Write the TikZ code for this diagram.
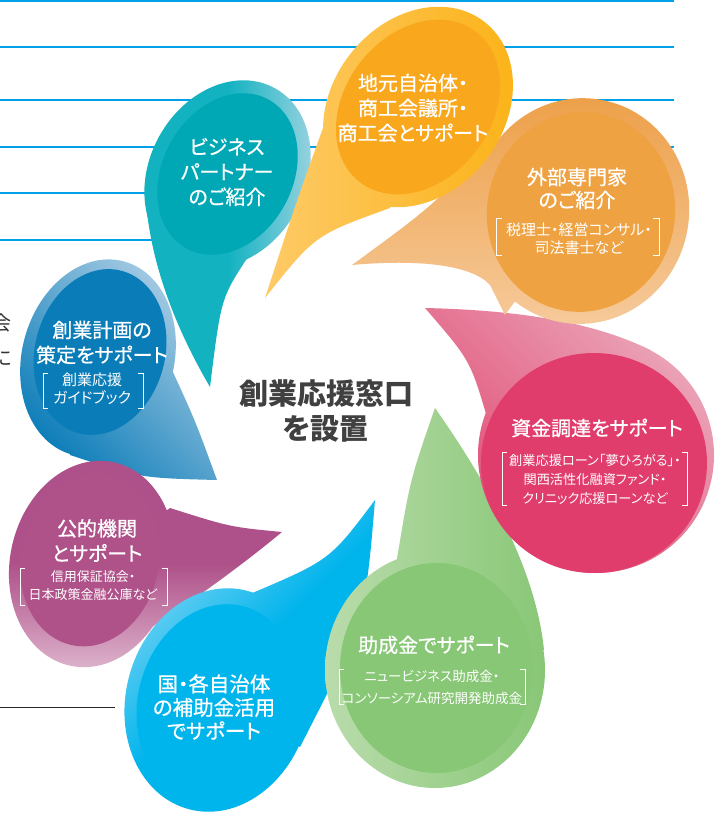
\documentclass[tikz,border=0pt]{standalone}
\usepackage{fontspec}
\newfontfamily\jp{Noto Sans CJK JP}[RawFeature=+palt]
\newfontfamily\jpm{Noto Sans CJK JP}[RawFeature=+palt, FakeBold=0.7]
\definecolor{lineblue}{HTML}{00A0E9}
\definecolor{tealIn}{HTML}{00A7B5}
\definecolor{tealA}{HTML}{12B2C1}
\definecolor{tealL}{HTML}{9CD3E0}
\definecolor{yelIn}{HTML}{F9A81D}
\definecolor{yelL}{HTML}{FECB6A}
\definecolor{yelR}{HTML}{FBB318}
\definecolor{orIn}{HTML}{EEA241}
\definecolor{orT}{HTML}{EDA049}
\definecolor{orB}{HTML}{F6CA9B}
\definecolor{pkIn}{HTML}{E03D6D}
\definecolor{pkL}{HTML}{EBA7BA}
\definecolor{pkD}{HTML}{E0456F}
\definecolor{grIn}{HTML}{87C775}
\definecolor{grL}{HTML}{BADCAC}
\definecolor{grR}{HTML}{88C776}
\definecolor{blIn}{HTML}{00B4EC}
\definecolor{blL}{HTML}{8AD8F5}
\definecolor{puIn}{HTML}{B0528A}
\definecolor{puT}{HTML}{AE5089}
\definecolor{puB}{HTML}{DDB3CC}
\definecolor{dbIn}{HTML}{0A7DB9}
\definecolor{dbL}{HTML}{B0D0E6}
\definecolor{dbD}{HTML}{0A7CB8}
\definecolor{ctext}{HTML}{404040}
\begin{document}
\begin{tikzpicture}[x=1pt,y=-1pt,
  ttl/.style={text=white, align=center, inner sep=0pt},
  sml/.style={text=white, align=center, inner sep=0pt},
  brk/.style={draw=white, line width=0.9pt},
  bgline/.style={draw=lineblue, line width=1.7pt}]
\useasboundingbox (0,0) rectangle (717,814);
\fill[white] (0,0) rectangle (717,814);

% background lines and page fragments
\foreach \yy in {1,47,100,147} \draw[bgline] (0,\yy) -- (674,\yy);
\foreach \yy in {193,240} \draw[bgline] (0,\yy) -- (200,\yy);
\draw[line width=0.9pt, black!85] (0,707) -- (115,707);
\node[anchor=east, inner sep=0pt, text=black!80, font=\jp\fontsize{20}{20}\selectfont] (edgeA) at (12,323) {会};
\node[anchor=east, inner sep=0pt, text=black!80, font=\jp\fontsize{20}{20}\selectfont] (edgeB) at (12,358) {に};

% ---- teal
\coordinate (tealC) at (227.5,174);
\begin{scope}
 \clip (210,387) .. controls (165,310) and (148,245) .. (145,190) -- (tealC) -- (248,257) .. controls (221,298) .. (210,387) -- cycle;
 \shade[left color=tealA, right color=tealL, middle color=tealA] (140,75) rectangle (315,390);
\end{scope}
\begin{scope}
 \clip[rotate around={-29:(tealC)}] (tealC) ellipse [x radius=78, y radius=98];
 \shade[left color=tealA, right color=tealL, middle color=tealA] (140,75) rectangle (315,390);
\end{scope}
\fill[tealIn, rotate around={-29:(tealC)}] (tealC) ellipse [x radius=65, y radius=85];

% ---- dark blue
\coordinate (dbC) at (98,358);
\begin{scope}
 \clip (217,480) .. controls (195,420) .. (172,370) -- (dbC) -- (70,455) .. controls (140,478) .. (217,480) -- cycle;
 \shade[top color=dbL, bottom color=dbD, shading angle=-45] (18,255) rectangle (222,482);
\end{scope}
\begin{scope}
 \clip[rotate around={-15:(dbC)}] (dbC) ellipse [x radius=76, y radius=100];
 \shade[top color=dbL, bottom color=dbD, shading angle=-45] (18,255) rectangle (222,482);
\end{scope}
\fill[dbIn, rotate around={-15:(100,352)}] (100,352) ellipse [x radius=65, y radius=84];

% ---- purple
\coordinate (puC) at (92,564);
\begin{scope}
 \clip (282,532) .. controls (230,527) .. (170,508) -- (puC) -- (105,655) .. controls (160,625) and (230,575) .. (282,532) -- cycle;
 \shade[top color=puT, bottom color=puB, middle color=puT] (6,455) rectangle (285,670);
\end{scope}
\begin{scope}
 \clip[rotate around={-12:(puC)}] (puC) ellipse [x radius=82, y radius=104];
 \shade[top color=puT, bottom color=puB, middle color=puT] (6,455) rectangle (285,670);
\end{scope}
\fill[puIn, rotate around={-12:(90,560)}] (90,560) ellipse [x radius=69, y radius=87];

% ---- blue
\coordinate (blC) at (218,700);
\begin{scope}
 \clip (375,500) .. controls (365,620) .. (300,747) -- (blC) -- (250,594) .. controls (330,560) .. (375,500) -- cycle;
 \shade[top color=blL, bottom color=blIn, middle color=blIn, shading angle=45] (122,495) rectangle (380,814);
\end{scope}
\begin{scope}
 \clip[rotate around={-15:(blC)}] (blC) ellipse [x radius=92, y radius=113];
 \shade[top color=blL, bottom color=blIn, middle color=blIn, shading angle=45] (122,495) rectangle (380,814);
\end{scope}
\fill[blIn, rotate around={-15:(218,703)}] (218,703) ellipse [x radius=80, y radius=100];

% ---- green
\coordinate (grC) at (435,670);
\begin{scope}
 \clip (435,408) .. controls (410,480) .. (397,559) -- (grC) -- (544,650) .. controls (535,560) and (475,465) .. (435,408) -- cycle;
 \shade[left color=grL, right color=grR] (322,405) rectangle (548,790);
\end{scope}
\begin{scope}
 \clip (grC) ellipse [x radius=110, y radius=118];
 \shade[left color=grL, right color=grR] (322,405) rectangle (548,790);
\end{scope}
\fill[grIn] (436.5,668) ellipse [x radius=96.5, y radius=105];

% ---- pink
\coordinate (pkC) at (596,455);
\begin{scope}
 \clip (425,308) .. controls (510,310) and (590,320) .. (650,350) -- (pkC) -- (487,417) .. controls (470,360) .. (425,308) -- cycle;
 \shade[top color=pkL, bottom color=pkD, shading angle=-45] (420,300) rectangle (716,576);
\end{scope}
\begin{scope}
 \clip (pkC) ellipse [x radius=118, y radius=118];
 \shade[top color=pkL, bottom color=pkD, shading angle=-45] (420,300) rectangle (716,576);
\end{scope}
\fill[pkIn] (594,463) ellipse [x radius=113, y radius=110];

% ---- orange
\coordinate (orC) at (581,211);
\begin{scope}
 \clip (352,265) .. controls (430,208) .. (497,140) -- (orC) -- (505,315) -- (490,285) .. controls (475,268) and (430,258) .. (352,265) -- cycle;
 \shade[top color=orT, bottom color=orB] (348,95) rectangle (692,326);
\end{scope}
\begin{scope}
 \clip[rotate around={-10:(orC)}] (orC) ellipse [x radius=108, y radius=113];
 \shade[top color=orT, bottom color=orB] (348,95) rectangle (692,326);
\end{scope}
\fill[orIn, rotate around={-10:(581,212)}] (581,212) ellipse [x radius=94, y radius=100];

% ---- yellow
\coordinate (yelC) at (418,107);
\begin{scope}
 \clip (265,298) .. controls (297,200) .. (323,128) -- (yelC) -- (390,208) .. controls (315,235) .. (265,298) -- cycle;
 \shade[left color=yelL, right color=yelR] (258,3) rectangle (516,300);
\end{scope}
\begin{scope}
 \clip[rotate around={-38:(yelC)}] (yelC) ellipse [x radius=86, y radius=108];
 \shade[left color=yelL, right color=yelR] (258,3) rectangle (516,300);
\end{scope}
\fill[yelIn, rotate around={-38:(yelC)}] (yelC) ellipse [x radius=73, y radius=95];

% ---- texts
\node[ttl, font=\jpm\fontsize{20}{25}\selectfont] (tTeal) at (227,172) {ビジネス\\パートナー\\のご紹介};
\node[ttl, font=\jpm\fontsize{20}{25}\selectfont] (tYel) at (413,108) {地元自治体・\\商工会議所・\\商工会とサポート};
\node[ttl, font=\jpm\fontsize{20}{23}\selectfont] (tOr) at (577,188.5) {外部専門家\\のご紹介};
\node[sml, font=\jp\fontsize{15}{18}\selectfont] (sOr) at (579,239) {税理士・経営コンサル・\\司法書士など};
\node[ttl, font=\jpm\fontsize{20}{25}\selectfont] (tPk) at (597,428) {資金調達をサポート};
\node[sml, font=\jp\fontsize{13.2}{19}\selectfont] (sPk) at (595,479.5) {創業応援ローン「夢ひろがる」・\\関西活性化融資ファンド・\\クリニック応援ローンなど};
\node[ttl, font=\jpm\fontsize{20}{25}\selectfont] (tGr) at (434,645) {助成金でサポート};
\node[sml, font=\jp\fontsize{13.5}{21.5}\selectfont] (sGr) at (432,687.5) {ニュービジネス助成金・\\コンソーシアム研究開発助成金};
\node[ttl, font=\jpm\fontsize{20.5}{23.5}\selectfont] (tBl) at (214,707) {国・各自治体\\の補助金活用\\でサポート};
\node[ttl, font=\jpm\fontsize{20}{25}\selectfont] (tPu) at (97,540.5) {公的機関\\とサポート};
\node[sml, font=\jp\fontsize{13}{18}\selectfont] (sPu) at (93,586) {信用保証協会・\\日本政策金融公庫など};
\node[ttl, font=\jpm\fontsize{20}{25}\selectfont] (tDb) at (102,342.5) {創業計画の\\策定をサポート};
\node[sml, font=\jp\fontsize{15}{18}\selectfont] (sDb) at (92,389) {創業応援\\ガイドブック};
\node[inner sep=0pt, align=center, text=ctext, font=\jp\bfseries\fontsize{29}{35}\selectfont] (centre) at (326,410.5) {創業応援窓口\\を設置};

% ---- brackets
\draw[brk] (502,218) -- (496,218) -- (496,255) -- (502,255);
\draw[brk] (653,218) -- (659,218) -- (659,255) -- (653,255);
\draw[brk] (507,452) -- (502,452) -- (502,505) -- (507,505);
\draw[brk] (682,452) -- (687,452) -- (687,505) -- (682,505);
\draw[brk] (344,669) -- (339,669) -- (339,704) -- (344,704);
\draw[brk] (520,669) -- (525,669) -- (525,704) -- (520,704);
\draw[brk] (25,568) -- (20,568) -- (20,605) -- (25,605);
\draw[brk] (162,568) -- (167,568) -- (167,605) -- (162,605);
\draw[brk] (48,373) -- (43,373) -- (43,408) -- (48,408);
\draw[brk] (138,373) -- (143,373) -- (143,408) -- (138,408);
\end{tikzpicture}
\end{document}
